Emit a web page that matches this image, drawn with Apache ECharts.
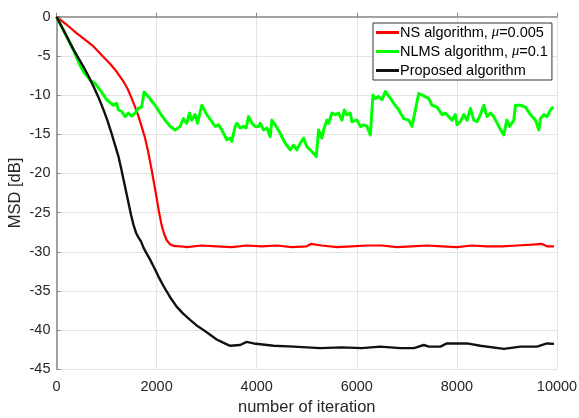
<!DOCTYPE html>
<html>
<head>
<meta charset="utf-8">
<title>MSD learning curves</title>
<script src="https://cdn.jsdelivr.net/npm/echarts@6/dist/echarts.min.js"></script>
<style>
  html, body { margin: 0; padding: 0; background: #fff; }
  #chart { width: 579px; height: 418px; }
</style>
</head>
<body>
<div id="chart"></div>
<script>
// Axis ticks
var xTicks = [0, 2000, 4000, 6000, 8000, 10000];
var yTicks = [0, -5, -10, -15, -20, -25, -30, -35, -40, -45];

// Series names
var seriesNames = ['NS algorithm, μ=0.005', 'NLMS algorithm, μ=0.1', 'Proposed algorithm'];

// NS algorithm (mu = 0.005): iteration, MSD [dB]
var nsIter = [0, 200, 400, 600, 740, 900, 1070, 1200, 1340, 1420, 1500, 1570, 1640, 1700, 1770, 1830, 1900,
  1950, 2003, 2050, 2100, 2150, 2200, 2260, 2340, 2470,
  2600, 2900, 3200, 3500, 3800, 4100, 4400, 4700, 5000, 5080, 5300, 5600, 5900, 6200, 6500,
  6800, 7100, 7400, 7700, 8000, 8300, 8600, 8900, 9200, 9500, 9700, 9800, 9940];
var nsMsd = [0, -1.0, -2.1, -3.1, -3.8, -4.9, -6.0, -7.0, -8.3, -9.2, -10.4, -11.5, -12.75, -14.0, -15.5, -17.2, -19.5,
  -21.3, -23.2, -25.0, -26.6, -27.7, -28.5, -29.0, -29.25, -29.3,
  -29.4, -29.2, -29.3, -29.4, -29.2, -29.3, -29.2, -29.4, -29.3, -29.0, -29.2, -29.4, -29.3, -29.2, -29.2,
  -29.4, -29.3, -29.2, -29.3, -29.4, -29.2, -29.3, -29.3, -29.2, -29.1, -29.0, -29.3, -29.3];

// NLMS algorithm (mu = 0.1)
var nlmsIter = [0, 170, 337, 470, 537, 670, 770, 870, 1003, 1137, 1203, 1237, 1303, 1370, 1437, 1503, 1570,
  1637, 1703, 1750, 1837, 1903, 1970, 2070, 2170, 2270, 2370, 2470, 2537, 2603, 2657, 2703, 2770, 2817,
  2903, 3003, 3103, 3170, 3237, 3303, 3403, 3470, 3503, 3570, 3603, 3670, 3737, 3790, 3837, 3903, 3970,
  4037, 4070, 4137, 4203, 4270, 4303, 4370, 4470, 4570, 4670, 4737, 4803, 4870, 4937, 5003, 5103, 5190,
  5237, 5303, 5337, 5403, 5437, 5503, 5570, 5637, 5703, 5750, 5803, 5870, 5903, 6003, 6070, 6137, 6203,
  6270, 6323, 6370, 6437, 6503, 6570, 6637, 6737, 6837, 6937, 7037, 7103, 7170, 7237, 7337, 7437, 7503,
  7603, 7703, 7770, 7837, 7903, 7970, 8003, 8070, 8137, 8203, 8270, 8337, 8403, 8470, 8537, 8603, 8670,
  8737, 8837, 8937, 8997, 9053, 9137, 9170, 9270, 9370, 9470, 9570, 9637, 9670, 9737, 9803, 9837, 9870, 9923];
var nlmsMsd = [0, -2.1, -4.25, -6.2, -7.0, -8.1, -8.5, -9.35, -10.6, -11.3, -11.05, -11.9, -12.1, -12.75, -12.3, -12.7, -12.3,
  -11.7, -11.5, -9.6, -10.2, -10.8, -11.3, -12.3, -13.2, -14.0, -14.45, -14.0, -13.0, -13.6, -12.3, -13.2, -12.5, -13.6,
  -11.3, -12.5, -13.4, -14.0, -13.8, -14.45, -15.7, -15.5, -15.9, -14.0, -13.6, -14.2, -14.0, -14.2, -12.75, -13.6, -14.0,
  -14.0, -13.6, -14.45, -14.2, -15.3, -13.2, -13.8, -14.9, -16.15, -17.0, -16.4, -17.0, -16.15, -15.5, -16.6, -17.2, -17.85,
  -14.45, -15.5, -14.45, -13.2, -13.6, -12.3, -12.5, -12.3, -13.2, -11.9, -12.5, -12.3, -13.4, -13.2, -14.0, -13.8, -14.0,
  -15.1, -10.0, -10.45, -10.2, -10.6, -9.55, -10.1, -11.05, -11.9, -13.0, -13.2, -14.0, -11.9, -9.8, -10.1, -10.45, -11.3,
  -11.55, -12.5, -12.3, -12.75, -13.2, -12.5, -13.8, -13.4, -12.5, -13.2, -11.7, -13.2, -13.4, -12.5, -11.3, -12.75, -12.3,
  -12.75, -14.0, -15.1, -13.2, -14.0, -13.2, -11.3, -11.3, -11.55, -12.5, -13.2, -14.45, -13.0, -12.5, -12.75, -12.3, -11.9, -11.5];

// Proposed algorithm
var propIter = [0, 170, 340, 540, 640, 740, 840, 940, 1020, 1100, 1170, 1240, 1290, 1340, 1390, 1440, 1490,
  1540, 1590, 1640, 1690, 1740, 1800, 1870, 1950, 2040, 2140, 2270, 2400, 2530, 2670, 2800,
  2940, 3070, 3200, 3330, 3470, 3670, 3800, 3940, 4340, 4740, 5270, 5700, 6100, 6470, 6870, 7140, 7340, 7440, 7670,
  7800, 8200, 8470, 8940, 9270, 9600, 9800, 9940];
var propMsd = [0, -2.1, -4.2, -6.4, -7.6, -8.9, -10.3, -11.9, -13.3, -14.9, -16.4, -17.9, -19.3, -20.8, -22.3, -23.8, -25.3,
  -26.6, -27.6, -28.2, -28.7, -29.5, -30.2, -31.0, -32.0, -33.2, -34.4, -35.8, -37.0, -37.9, -38.7, -39.4,
  -40.0, -40.6, -41.2, -41.6, -42.0, -41.9, -41.5, -41.7, -42.0, -42.1, -42.3, -42.2, -42.3, -42.1, -42.3, -42.3, -41.9, -42.1, -42.1,
  -41.7, -41.7, -42.0, -42.4, -42.1, -42.1, -41.7, -41.75];

function zip(xs, ys) {
  return xs.map(function (x, i) { return [x, ys[i]]; });
}

var chart = echarts.init(document.getElementById('chart'), null, { renderer: 'canvas' });

var textColor = '#262626';
var axisColor = '#8a8a8a';
var gridColor = '#e3e3e3';
var sansFont = 'Liberation Sans';

chart.setOption({
  animation: false,
  backgroundColor: '#ffffff',
  grid: {
    left: 56.5, right: 22, top: 16.7, bottom: 48.7,
    containLabel: false,
    outerBoundsMode: 'none'
  },
  xAxis: {
    type: 'value',
    min: xTicks[0],
    max: xTicks[xTicks.length - 1],
    interval: xTicks[1] - xTicks[0],
    name: 'number of iteration',
    nameLocation: 'middle',
    nameGap: 30,
    nameMoveOverlap: false,
    nameTextStyle: { fontFamily: sansFont, fontSize: 16.5, color: textColor },
    axisLine: { show: true, lineStyle: { color: axisColor, width: 1.5 } },
    axisTick: { show: true, inside: true, length: 4, lineStyle: { color: axisColor } },
    axisLabel: {
      fontFamily: sansFont, fontSize: 14.5, color: textColor, margin: 10,
      formatter: function (v) { return String(v); }
    },
    splitLine: { show: true, lineStyle: { color: gridColor, width: 1 } }
  },
  yAxis: {
    type: 'value',
    min: yTicks[yTicks.length - 1],
    max: yTicks[0],
    interval: yTicks[0] - yTicks[1],
    name: 'MSD [dB]',
    nameLocation: 'middle',
    nameGap: 33,
    nameRotate: 90,
    nameMoveOverlap: false,
    nameTextStyle: { fontFamily: sansFont, fontSize: 16.5, color: textColor },
    axisLine: { show: true, lineStyle: { color: axisColor, width: 1.5 } },
    axisTick: { show: true, inside: true, length: 4, lineStyle: { color: axisColor } },
    axisLabel: {
      fontFamily: sansFont, fontSize: 14.5, color: textColor, margin: 6,
      formatter: function (v) { return String(v); }
    },
    splitLine: { show: true, lineStyle: { color: gridColor, width: 1 } }
  },
  legend: {
    orient: 'vertical',
    left: 373,
    top: 23,
    data: seriesNames,
    icon: 'rect',
    itemWidth: 23,
    itemHeight: 3,
    itemGap: 4,
    padding: [2, 4, 2, 3],
    backgroundColor: '#ffffff',
    borderColor: '#333333',
    borderWidth: 1,
    borderRadius: 0,
    formatter: function (name) {
      return name.replace('μ', '{mu|μ}');
    },
    textStyle: {
      fontFamily: sansFont,
      fontSize: 14.5,
      lineHeight: 15,
      color: '#000000',
      padding: [0, 0, 0, -4],
      rich: {
        mu: { fontFamily: 'Liberation Serif', fontStyle: 'italic', fontSize: 14.5, color: '#000000' }
      }
    }
  },
  series: [
    {
      name: seriesNames[0],
      type: 'line',
      data: zip(nsIter, nsMsd),
      showSymbol: false,
      symbol: 'none',
      color: '#ff0000',
      lineStyle: { color: '#ff0000', width: 2.2, join: 'round' },
      z: 2
    },
    {
      name: seriesNames[1],
      type: 'line',
      data: zip(nlmsIter, nlmsMsd),
      showSymbol: false,
      symbol: 'none',
      color: '#00ff00',
      lineStyle: { color: '#00ff00', width: 3, join: 'round' },
      z: 3
    },
    {
      name: seriesNames[2],
      type: 'line',
      data: zip(propIter, propMsd),
      showSymbol: false,
      symbol: 'none',
      color: '#111111',
      lineStyle: { color: '#111111', width: 2.4, join: 'round' },
      z: 4
    }
  ]
});
</script>
</body>
</html>
